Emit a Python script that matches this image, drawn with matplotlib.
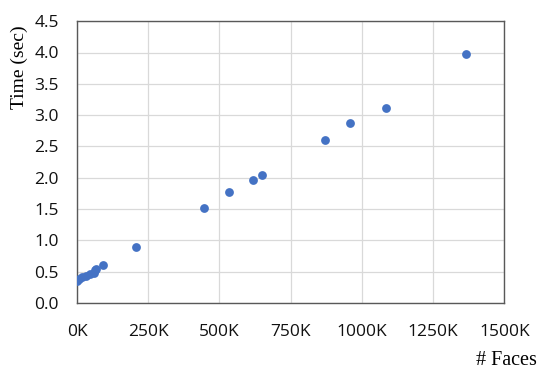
import matplotlib
matplotlib.use("Agg")
import matplotlib.pyplot as plt
from matplotlib.ticker import FuncFormatter, MultipleLocator

faces = [0, 8000, 16000, 30000, 45000, 61000, 63000, 65000, 92000, 207000,
         446000, 534000, 618000, 650000, 871000, 959000, 1085000, 1366000]
times = [0.36, 0.39, 0.41, 0.44, 0.46, 0.48, 0.53, 0.55, 0.61, 0.89,
         1.52, 1.78, 1.97, 2.05, 2.60, 2.87, 3.11, 3.97]

fig = plt.figure(figsize=(5.5, 3.78), dpi=100)
ax = fig.add_axes([0.14, 0.198, 0.777, 0.746])

ax.scatter(faces, times, s=40, color="#4472C4", zorder=3, linewidths=0)

ax.set_xlim(0, 1500000)
ax.set_ylim(0, 4.5)
ax.xaxis.set_major_locator(MultipleLocator(250000))
ax.yaxis.set_major_locator(MultipleLocator(0.5))
ax.xaxis.set_major_formatter(FuncFormatter(lambda v, p: f"{int(round(v/1000))}K"))
ax.yaxis.set_major_formatter(FuncFormatter(lambda v, p: f"{v:.1f}"))

ax.grid(True, color="#d9d9d9", linewidth=0.9, zorder=0)
ax.set_axisbelow(True)
for s in ax.spines.values():
    s.set_color("#595959")
    s.set_linewidth(1.0)
ax.tick_params(length=0, labelsize=12.5, colors="#111111")
ax.tick_params(axis="x", pad=15)
ax.tick_params(axis="y", pad=13)
for lab in ax.get_xticklabels() + ax.get_yticklabels():
    lab.set_family(["Open Sans", "DejaVu Sans"])

fig.text(0.036, 0.823, "Time (sec)", rotation=90, ha="center", va="center",
         family="Liberation Serif", fontsize=14)
fig.text(0.977, 0.045, "# Faces", ha="right", va="center",
         family="Liberation Serif", fontsize=14.5)

fig.savefig("out.png", dpi=100)
